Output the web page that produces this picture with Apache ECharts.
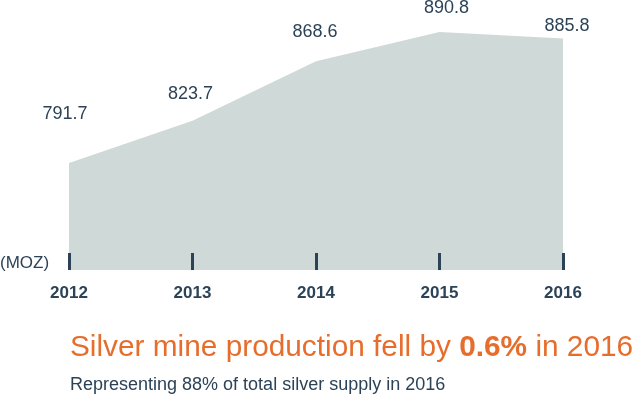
<!DOCTYPE html>
<html><head><meta charset="utf-8">
<script src="https://cdn.jsdelivr.net/npm/echarts@6/dist/echarts.min.js"></script>
<style>html,body{margin:0;padding:0;background:#fff}#c{width:636px;height:397px}</style>
</head><body><div id="c"></div>
<script>
const years = ['2012', '2013', '2014', '2015', '2016'];
const production = [791.7, 823.7, 868.6, 890.8, 885.8];
const unitLabel = '(MOZ)';
const titleMain = 'Silver mine production fell by ';
const titleBold = '0.6%';
const titleEnd = ' in 2016';
const subtitle = 'Representing 88% of total silver supply in 2016';

const labelOffsets = [[-4, -40], [-2, -18], [-1, -20], [7, -15], [4, -4]];
const dark = '#2c4357';
const font = 'Liberation Sans, Arial';
const chart = echarts.init(document.getElementById('c'));
chart.setOption({
  animation: false,
  grid: { left: 69, right: 73, top: 0, bottom: 127 },
  xAxis: {
    type: 'category', data: years, boundaryGap: false, z: 10,
    axisLine: { show: false },
    axisTick: { show: true, inside: true, length: 17, lineStyle: { color: dark, width: 3 } },
    axisLabel: { color: dark, fontSize: 17, fontWeight: 'bold', fontFamily: font, margin: 15 },
    splitLine: { show: false }
  },
  yAxis: { type: 'value', min: 710.8, max: 915, show: false },
  series: [{
    type: 'line', data: production.map((v, i) => ({
      value: v,
      label: { offset: labelOffsets[i] }
    })),
    symbol: 'circle', symbolSize: 0, showSymbol: true, itemStyle: { color: 'rgba(0,0,0,0)' },
    lineStyle: { width: 0 },
    areaStyle: { color: '#cfd9d8', opacity: 1 },
    label: { show: true, position: 'top', distance: 0, color: dark, fontSize: 18, fontFamily: font, formatter: p => p.value.toFixed(1) },
    z: 1
  }],
  graphic: [
    { type: 'text', left: 0, top: 255, z: 10, style: { text: unitLabel, fill: dark, fontSize: 17, fontFamily: font } },
    { type: 'text', left: 70, top: 333, style: {
      text: '{n|' + titleMain + '}{b|' + titleBold + '}{n|' + titleEnd + '}',
      rich: {
        n: { fill: '#e66d2b', fontSize: 29.8, fontFamily: font },
        b: { fill: '#e66d2b', fontSize: 29.8, fontWeight: 'bold', fontFamily: font }
      } } },
    { type: 'text', left: 70, top: 376, style: { text: subtitle, fill: dark, fontSize: 18, fontFamily: font } }
  ]
});
</script></body></html>
